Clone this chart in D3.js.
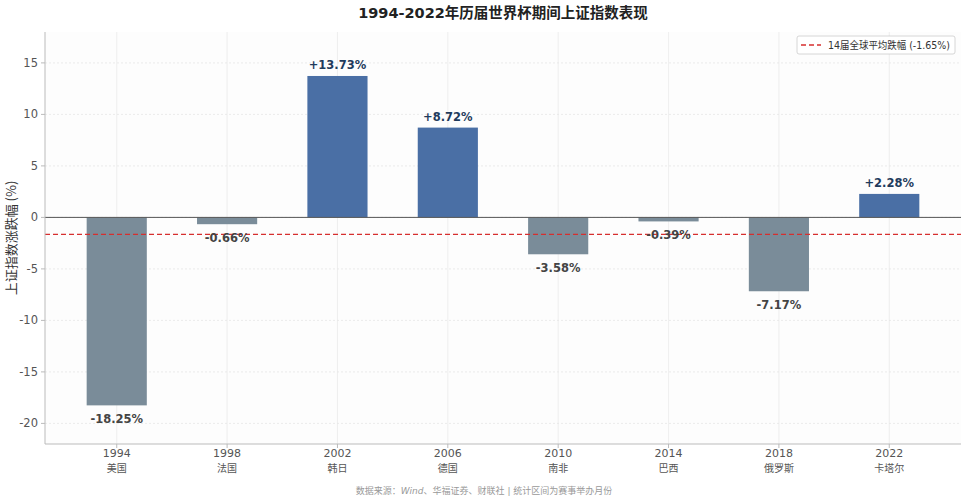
<!DOCTYPE html>
<html><head><meta charset="utf-8">
<script src="https://cdn.jsdelivr.net/npm/d3@7"></script>
<style>
body{margin:0;background:#fff;}
svg{display:block;font-family:"DejaVu Sans","Noto Sans CJK SC",sans-serif;}
</style></head>
<body><svg id="c" width="968" height="503"></svg>
<script>
const years = ["1994","1998","2002","2006","2010","2014","2018","2022"];
const hosts = ["美国","法国","韩日","德国","南非","巴西","俄罗斯","卡塔尔"];
const values = [-18.25,-0.66,13.73,8.72,-3.58,-0.39,-7.17,2.28];
const yTicks = [-20,-15,-10,-5,0,5,10,15];
const avgValue = -1.65;

const svg = d3.select("#c");
const m = {l:45, r:961, t:32, b:444};
const x = d3.scaleLinear().domain([-0.65, 7.65]).range([m.l, m.r]);
const y = d3.scaleLinear().domain([-22, 18]).range([m.b, m.t]);
const bw = x(0.545) - x(0);

svg.append("rect").attr("x",m.l).attr("y",m.t).attr("width",m.r-m.l).attr("height",m.b-m.t).attr("fill","#fdfdfd");

// grid
svg.append("g").selectAll("line").data(years).join("line")
  .attr("x1",(d,i)=>x(i)).attr("x2",(d,i)=>x(i)).attr("y1",m.t).attr("y2",m.b)
  .attr("stroke","#ebebeb").attr("stroke-width",0.8);
svg.append("g").selectAll("line").data(yTicks).join("line")
  .attr("x1",m.l).attr("x2",m.r).attr("y1",d=>y(d)).attr("y2",d=>y(d))
  .attr("stroke","#e6e6e6").attr("stroke-width",0.8).attr("stroke-dasharray","2,2");

// bars
svg.append("g").selectAll("rect").data(values).join("rect")
  .attr("x",(d,i)=>x(i)-bw/2).attr("width",bw)
  .attr("y",d=>y(Math.max(0,d))).attr("height",d=>Math.abs(y(d)-y(0)))
  .attr("fill",d=>d>=0?"#4a6fa5":"#7a8c99");

// zero line
svg.append("line").attr("x1",m.l).attr("x2",m.r).attr("y1",y(0)).attr("y2",y(0))
  .attr("stroke","#555").attr("stroke-width",1);

// avg line
svg.append("line").attr("x1",m.l).attr("x2",m.r).attr("y1",y(avgValue)).attr("y2",y(avgValue))
  .attr("stroke","#d62f2f").attr("stroke-width",1.4).attr("stroke-dasharray","5,3");

// value labels
svg.append("g").selectAll("text").data(values).join("text")
  .attr("x",(d,i)=>x(i))
  .attr("y",d=>d>=0? y(d)-7 : y(d)+18)
  .attr("text-anchor","middle").attr("font-size",11.5).attr("font-weight","bold")
  .attr("fill",d=>d>=0?"#1f3b5c":"#444")
  .text(d=>(d>=0?"+":"")+d.toFixed(2)+"%");

// axes spines
svg.append("line").attr("x1",m.l).attr("x2",m.l).attr("y1",m.t).attr("y2",m.b).attr("stroke","#bbb").attr("stroke-width",1);
svg.append("line").attr("x1",m.l).attr("x2",m.r).attr("y1",m.b).attr("y2",m.b).attr("stroke","#bbb").attr("stroke-width",1);

// y ticks
const yt = svg.append("g");
yt.selectAll("line").data(yTicks).join("line")
  .attr("x1",m.l-4).attr("x2",m.l).attr("y1",d=>y(d)).attr("y2",d=>y(d)).attr("stroke","#bbb");
yt.selectAll("text").data(yTicks).join("text")
  .attr("x",m.l-7).attr("y",d=>y(d)+4).attr("text-anchor","end")
  .attr("font-size",11.5).attr("fill","#555").text(d=>d);

// x ticks
const xt = svg.append("g");
xt.selectAll("line").data(years).join("line")
  .attr("x1",(d,i)=>x(i)).attr("x2",(d,i)=>x(i)).attr("y1",m.b).attr("y2",m.b+4).attr("stroke","#bbb");
xt.selectAll("text.yr").data(years).join("text").attr("class","yr")
  .attr("x",(d,i)=>x(i)).attr("y",m.b+13).attr("text-anchor","middle")
  .attr("font-size",11).attr("fill","#555").text(d=>d);
xt.selectAll("text.h").data(hosts).join("text").attr("class","h")
  .attr("x",(d,i)=>x(i)).attr("y",m.b+28).attr("text-anchor","middle")
  .attr("font-family","Noto Sans CJK SC").attr("font-size",10).attr("fill","#555").text(d=>d);

// y label
svg.append("text").attr("transform",`translate(16,${(m.t+m.b)/2}) rotate(-90)`)
  .attr("text-anchor","middle").attr("font-size",13).attr("fill","#333")
  .attr("font-family","Noto Sans CJK SC").text("上证指数涨跌幅 (%)");

// title
svg.append("text").attr("x",503).attr("y",18).attr("text-anchor","middle")
  .attr("font-size",14.5).attr("font-weight","bold").attr("fill","#222")
  .text("1994-2022年历届世界杯期间上证指数表现");

// legend
const lg = svg.append("g");
lg.append("rect").attr("x",797).attr("y",36).attr("width",158).attr("height",18).attr("rx",2)
  .attr("fill","#fff").attr("stroke","#ccc").attr("stroke-width",0.8);
lg.append("line").attr("x1",801).attr("x2",821).attr("y1",45).attr("y2",45)
  .attr("stroke","#d62f2f").attr("stroke-width",1.4).attr("stroke-dasharray","5,3");
lg.append("text").attr("x",828).attr("y",49).attr("font-size",10.5).attr("fill","#333")
  .attr("textLength",122).attr("lengthAdjust","spacingAndGlyphs")
  .text("14届全球平均跌幅 (-1.65%)");

// footnote
const fn = svg.append("text").attr("x",484).attr("y",494).attr("text-anchor","middle")
  .attr("font-size",9).attr("fill","#999");
fn.append("tspan").text("数据来源：");
fn.append("tspan").attr("font-style","italic").text("Wind");
fn.append("tspan").text("、华福证券、财联社 | 统计区间为赛事举办月份");
</script></body></html>
